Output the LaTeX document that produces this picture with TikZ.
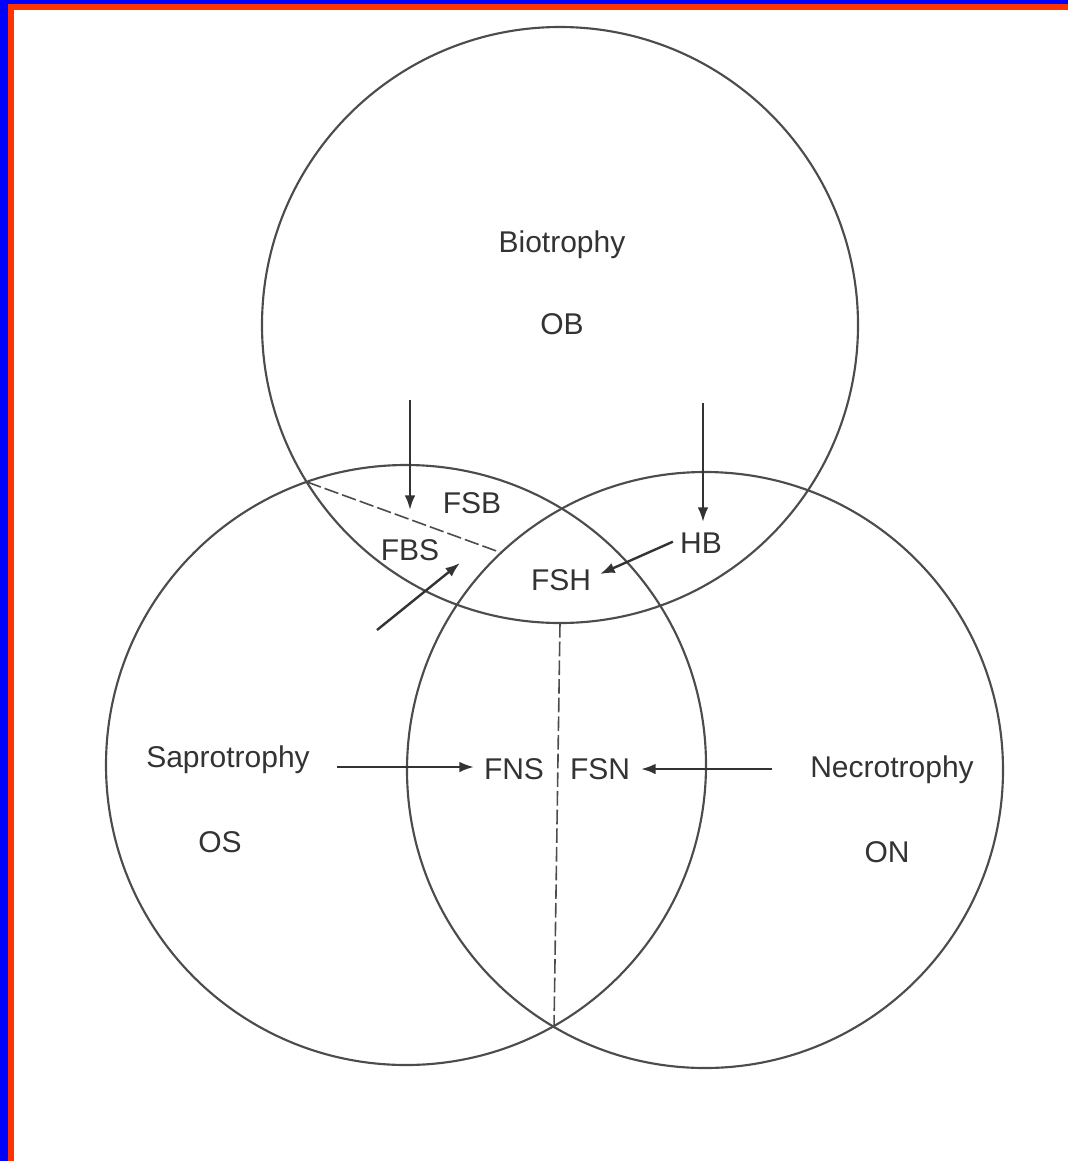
\documentclass[tikz,border=0pt]{standalone}
\usepackage{fontspec}
\setmainfont{Liberation Sans}
\usetikzlibrary{arrows.meta}
\definecolor{frameblue}{RGB}{0,0,255}
\definecolor{framered}{RGB}{255,51,0}

\begin{document}
\begin{tikzpicture}[x=0.75pt,y=-0.75pt,
  ring/.style={black!70, line width=1.6pt},
  divide/.style={black!70, line width=1.2pt, dash pattern=on 11pt off 3pt},
  arr/.style={-{Latex[length=11pt,width=8pt]}, black!80, line width=1.8pt},
  lbl/.style={font=\fontsize{22.5}{27}\selectfont, text=black!80, anchor=base, inner sep=0pt}]

\useasboundingbox (0,0) rectangle (1068,1161);

% Frame (top and left only)
\fill[frameblue] (0,0) rectangle (1068,4);
\fill[frameblue] (0,0) rectangle (8,1161);
\fill[framered] (8,4) rectangle (1068,10);
\fill[framered] (8,4) rectangle (14,1161);

% Circles
\draw[ring] (560,325) circle (298);
\draw[ring] (406,765) circle (300);
\draw[ring] (705,770) circle (298);

% Dividers
\coordinate (bsTop) at (307,482);
\coordinate (bsEnd) at (502,553);
\coordinate (snTop) at (560,623);
\coordinate (snEnd) at (554,1028);
\draw[divide] (bsTop) -- (bsEnd);
\draw[divide] (snTop) -- (snEnd);

% Labels
\node[lbl] (bio) at (562,252) {Biotrophy};
\node[lbl] (OB)  at (562,334) {OB};
\node[lbl] (FSB) at (472,513) {FSB};
\node[lbl] (FBS) at (410,560) {FBS};
\node[lbl] (HB)  at (701,553) {HB};
\node[lbl] (FSH) at (561,590) {FSH};
\node[lbl] (sap) at (228,767) {Saprotrophy};
\node[lbl] (OS)  at (220,852) {OS};
\node[lbl] (FNS) at (514,779) {FNS};
\node[lbl] (FSN) at (600,779) {FSN};
\node[lbl] (nec) at (892,777) {Necrotrophy};
\node[lbl] (ON)  at (887,862) {ON};

% Arrows
\coordinate (bioL)  at (410,400);
\coordinate (bioLe) at (410,510);
\coordinate (bioR)  at (703,403);
\coordinate (bioRe) at (703,522);
\coordinate (sapUp)  at (377,630);
\coordinate (sapUpe) at (460,563);
\coordinate (hbEnd)  at (600,574);
\coordinate (sapR)  at (337,767);
\coordinate (fnsEnd) at (474,767);
\coordinate (necL)  at (772,769);
\coordinate (fsnEnd) at (641,769);

\draw[arr] (bioL) -- (bioLe);
\draw[arr] (bioR) -- (bioRe);
\draw[arr] (sapUp) -- (sapUpe);
\draw[arr] (HB.west) ++(-7,-1) coordinate (hbStart) -- (hbEnd);
\draw[arr] (sapR) -- (fnsEnd);
\draw[arr] (necL) -- (fsnEnd);

\end{tikzpicture}
\end{document}
